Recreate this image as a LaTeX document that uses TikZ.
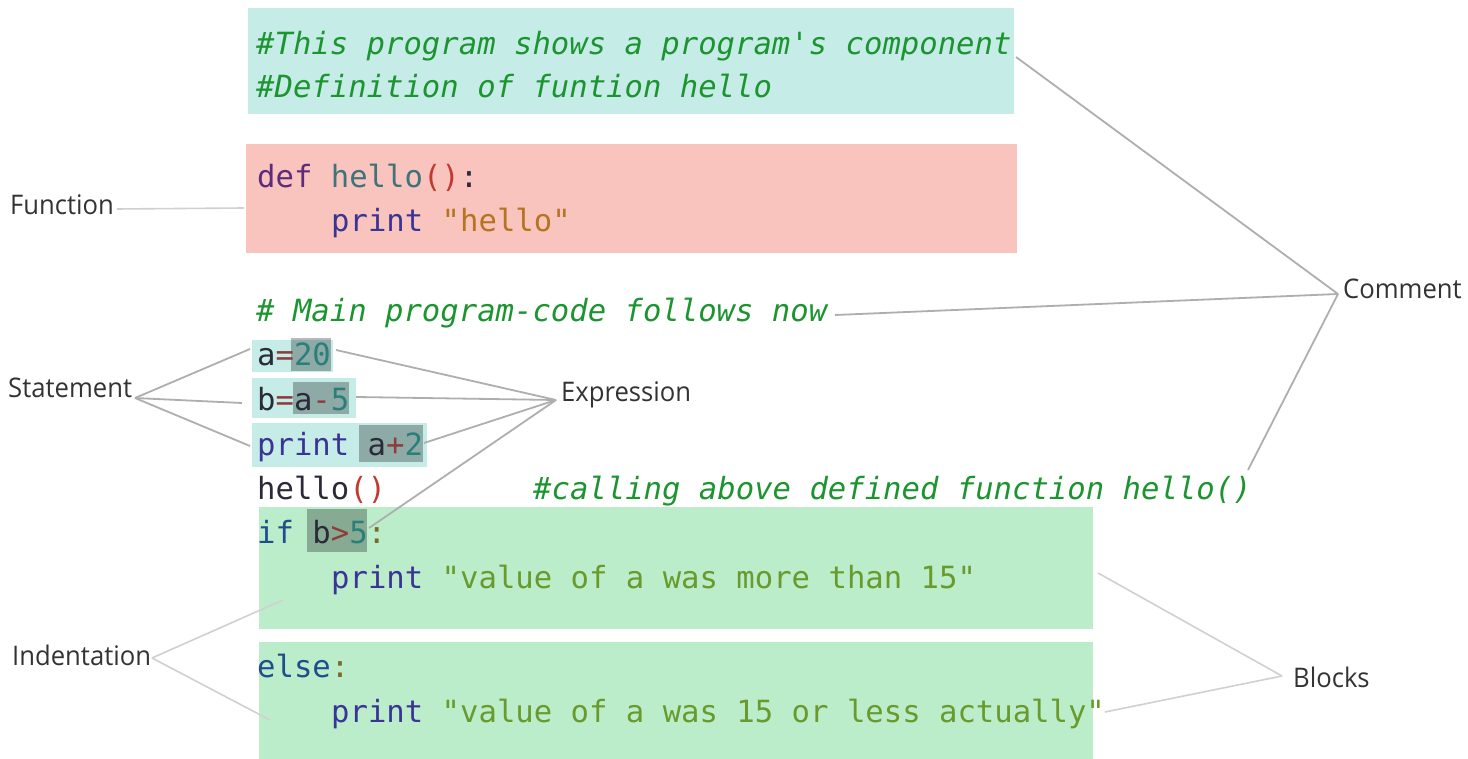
\documentclass[tikz,border=0pt]{standalone}
\usepackage{fontspec}
\newfontfamily\codefont[Ligatures=TeXOff]{DejaVu Sans Mono}
\newfontfamily\lblfont[FakeStretch=0.95]{Open Sans}

% panel backgrounds
\definecolor{cmtbg}{HTML}{C6ECE8}
\definecolor{fnbg}{HTML}{F9C4BE}
\definecolor{blkbg}{HTML}{BCEDCB}
% syntax colours
\definecolor{cmt}{HTML}{1C9430}
\definecolor{kwdef}{HTML}{5E2B7A}
\definecolor{fname}{HTML}{3E7379}
\definecolor{paren}{HTML}{C23A2E}
\definecolor{kwprint}{HTML}{3A3494}
\definecolor{strA}{HTML}{B5741F}
\definecolor{strB}{HTML}{689A2C}
\definecolor{num}{HTML}{2A7F7A}
\definecolor{ident}{HTML}{2A2A38}
\definecolor{op}{HTML}{8E3B3B}
\definecolor{kwif}{HTML}{1F4E8C}
\definecolor{colon}{HTML}{7A6A2A}
% labels and leader lines
\definecolor{lbl}{HTML}{333333}
\definecolor{wire}{HTML}{AEAEAE}
\definecolor{wirelt}{HTML}{D0D0D0}

\tikzset{
  code/.style={font=\codefont\fontsize{30.6}{36}\selectfont, anchor=base west, inner sep=0pt},
  note/.style={code, font=\codefont\itshape\fontsize{30.6}{36}\selectfont, text=cmt},
  lbl/.style={font=\lblfont\fontsize{27}{32}\selectfont, text=lbl, anchor=base west, inner sep=0pt},
  panel/.style={anchor=north west, inner sep=0pt, draw=none},
  hl/.style={panel, fill=black, fill opacity=0.28},
  wire/.style={draw=wire, line width=1.8pt},
  wirelt/.style={draw=wirelt, line width=1.6pt},
}

\begin{document}
\begin{tikzpicture}[x=1pt, y=-1pt]
\useasboundingbox (0,0) rectangle (1468,759);

% background panels
\node[panel, fill=cmtbg, minimum width=766, minimum height=106] (hdr) at (248,8) {};
\node[panel, fill=fnbg, minimum width=771, minimum height=109] (fnbox) at (246,144) {};
\node[panel, fill=cmtbg, minimum width=81, minimum height=32] (st1) at (252,340) {};
\node[panel, fill=cmtbg, minimum width=104, minimum height=40] (st2) at (252,378) {};
\node[panel, fill=cmtbg, minimum width=175, minimum height=44] (st3) at (252,423) {};
\node[panel, fill=blkbg, minimum width=834, minimum height=122] (blk1) at (259,507) {};
\node[panel, fill=blkbg, minimum width=834, minimum height=117] (blk2) at (259,642) {};

% expression highlights
\node[hl, minimum width=40, minimum height=33] (ex1) at (291,338) {};
\node[hl, minimum width=56, minimum height=32] (ex2) at (293,382) {};
\node[hl, minimum width=64, minimum height=37] (ex3) at (359,425) {};
\node[hl, minimum width=60, minimum height=43] (ex4) at (307,509) {};

% leader-line end points
\coordinate (fnA) at (117,209);
\coordinate (fnB) at (244,208);
\coordinate (stTip) at (135,398);
\coordinate (stE1) at (250,349);
\coordinate (stE2) at (242,403);
\coordinate (stE3) at (250,446);
\coordinate (exTip) at (556,400);
\coordinate (exE1) at (336,350);
\coordinate (exE2) at (356,397);
\coordinate (exE3) at (424,443);
\coordinate (exE4) at (369,528);
\coordinate (cmTip) at (1338,294);
\coordinate (cmE1) at (1016,57);
\coordinate (cmE2) at (835,315);
\coordinate (cmE3) at (1248,470);
\coordinate (bkTip) at (1282,676);
\coordinate (bkE1) at (1098,573);
\coordinate (bkE2) at (1105,712);
\coordinate (inTip) at (152,658);
\coordinate (inE1) at (283,600);
\coordinate (inE2) at (270,720);

% leader lines
\draw[wirelt] (fnA) -- (fnB);
\draw[wire] (stTip) -- (stE1);
\draw[wire] (stTip) -- (stE2);
\draw[wire] (stTip) -- (stE3);
\draw[wire] (exTip) -- (exE1);
\draw[wire] (exTip) -- (exE2);
\draw[wire] (exTip) -- (exE3);
\draw[wire] (exTip) -- (exE4);
\draw[wire] (cmTip) -- (cmE1);
\draw[wire] (cmTip) -- (cmE2);
\draw[wire] (cmTip) -- (cmE3);
\draw[wirelt] (bkTip) -- (bkE1);
\draw[wirelt] (bkTip) -- (bkE2);
\draw[wirelt] (inTip) -- (inE1);
\draw[wirelt] (inTip) -- (inE2);

% source code
\node[note] (c1) at (256,55) {\#This program shows a program's component};
\node[note] (c2) at (256,98) {\#Definition of funtion hello};
\node[code] (f1) at (257,188) {\textcolor{kwdef}{def} \textcolor{fname}{hello}\textcolor{paren}{()}\textcolor{ident}{:}};
\node[code] (f2) at (331,232) {\textcolor{kwprint}{print} \textcolor{strA}{"hello"}};
\node[note] (c3) at (256,322) {\# Main program-code follows now};
\node[code] (s1) at (257,366) {\textcolor{ident}{a}\textcolor{op}{=}\textcolor{num}{20}};
\node[code] (s2) at (257,410) {\textcolor{ident}{b}\textcolor{op}{=}\textcolor{ident}{a}\textcolor{op}{-}\textcolor{num}{5}};
\node[code] (s3) at (257,455) {\textcolor{kwprint}{print} \textcolor{ident}{a}\textcolor{op}{+}\textcolor{num}{2}};
\node[code] (call) at (257,499) {\textcolor{ident}{hello}\textcolor{paren}{()}};
\node[note] (c4) at (533,499) {\#calling above defined function hello()};
\node[code] (if1) at (257,543) {\textcolor{kwif}{if} \textcolor{ident}{b}\textcolor{op}{>}\textcolor{num}{5}\textcolor{colon}{:}};
\node[code] (p1) at (331,588) {\textcolor{kwprint}{print} \textcolor{strB}{"value of a was more than 15"}};
\node[code] (el) at (257,677) {\textcolor{kwif}{else}\textcolor{colon}{:}};
\node[code] (p2) at (331,722) {\textcolor{kwprint}{print} \textcolor{strB}{"value of a was 15 or less actually"}};

% labels
\node[lbl] (lfn) at (10,215) {Function};
\node[lbl] (lst) at (8,398) {Statement};
\node[lbl] (lex) at (561,402) {Expression};
\node[lbl] (lcm) at (1343,299) {Comment};
\node[lbl] (lbk) at (1293,687) {Blocks};
\node[lbl] (lin) at (12,665) {Indentation};
\end{tikzpicture}
\end{document}
